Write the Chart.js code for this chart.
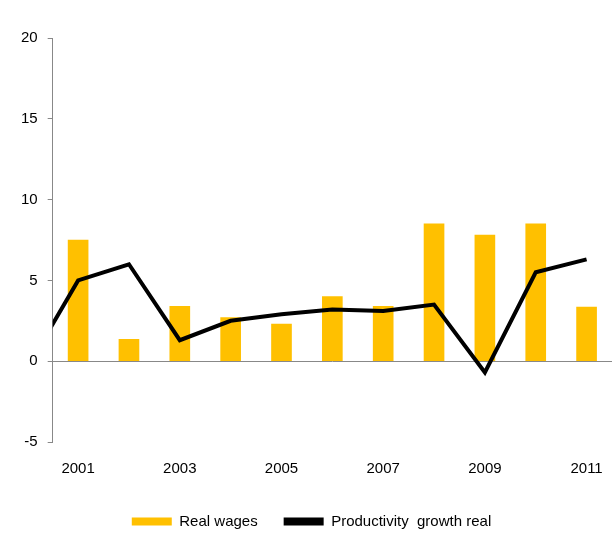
<!DOCTYPE html>
<html lang="en">
<head>
<meta charset="UTF-8">
<title>Real wages vs productivity</title>
<style>
  body { margin: 0; background: white; }
  .container-chart { width: 614px; height: 543px; position: relative; }
</style>
</head>
<body>
<div class="container-chart">
  <canvas id="myChart"></canvas>
</div>
<script src="https://cdn.jsdelivr.net/npm/chart.js"></script>
<script>
  const years = [2001, 2002, 2003, 2004, 2005, 2006, 2007, 2008, 2009, 2010, 2011];
  const realWages = [7.5, 1.35, 3.4, 2.7, 2.3, 4.0, 3.4, 8.5, 7.8, 8.5, 3.35];
  // line starts from 2000, clipped at the left edge of the plot
  const lineYears = [2000, 2001, 2002, 2003, 2004, 2005, 2006, 2007, 2008, 2009, 2010, 2011];
  const productivity = [-0.4, 5.0, 6.0, 1.3, 2.5, 2.9, 3.2, 3.1, 3.5, -0.7, 5.5, 6.3];
  const yTicks = [-5, 0, 5, 10, 15, 20];

  const ctx = document.getElementById('myChart');

  new Chart(ctx, {
    data: {
      datasets: [{
        type: 'line',
        label: 'Productivity  growth real',
        data: lineYears.map((y, i) => ({ x: y, y: productivity[i] })),
        borderColor: 'black',
        backgroundColor: 'black',
        borderWidth: 4,
        pointRadius: 0,
        tension: 0
      }, {
        type: 'bar',
        label: 'Real wages',
        data: years.map((y, i) => ({ x: y, y: realWages[i] })),
        backgroundColor: '#FFC000',
        barThickness: 20
      }]
    },
    options: {
      responsive: true,
      maintainAspectRatio: false,
      animation: false,
      layout: { padding: { top: 38, right: 2, left: 11, bottom: 4 } },
      plugins: {
        legend: {
          position: 'bottom',
          reverse: true,
          labels: {
            color: 'black',
            font: { family: 'Liberation Sans', size: 15 },
            boxWidth: 40,
            boxHeight: 8,
            padding: 26,
            generateLabels: chart => chart.data.datasets.map((d, i) => ({
              text: d.label,
              fillStyle: i === 0 ? 'black' : '#FFC000',
              strokeStyle: i === 0 ? 'black' : '#FFC000',
              lineWidth: 0,
              datasetIndex: i
            }))
          }
        },
        tooltip: { enabled: false }
      },
      scales: {
        x: {
          type: 'linear',
          min: 2000.5,
          max: 2011.5,
          offset: false,
          afterBuildTicks: axis => { axis.ticks = years.filter(y => y % 2 === 1).map(v => ({ value: v })); },
          ticks: { color: 'black', font: { family: 'Liberation Sans', size: 15 }, padding: 10, callback: v => String(v) },
          grid: { display: false },
          border: { display: false }
        },
        y: {
          min: -5,
          max: 20,
          afterBuildTicks: axis => { axis.ticks = yTicks.map(v => ({ value: v })); },
          ticks: { color: 'black', font: { family: 'Liberation Sans', size: 15 }, padding: 10 },
          grid: {
            drawOnChartArea: true,
            color: c => c.tick && c.tick.value === 0 ? '#888' : 'transparent',
            tickColor: '#888',
            tickLength: 5
          },
          border: { color: '#888' }
        }
      }
    }
  });
</script>
</body>
</html>
